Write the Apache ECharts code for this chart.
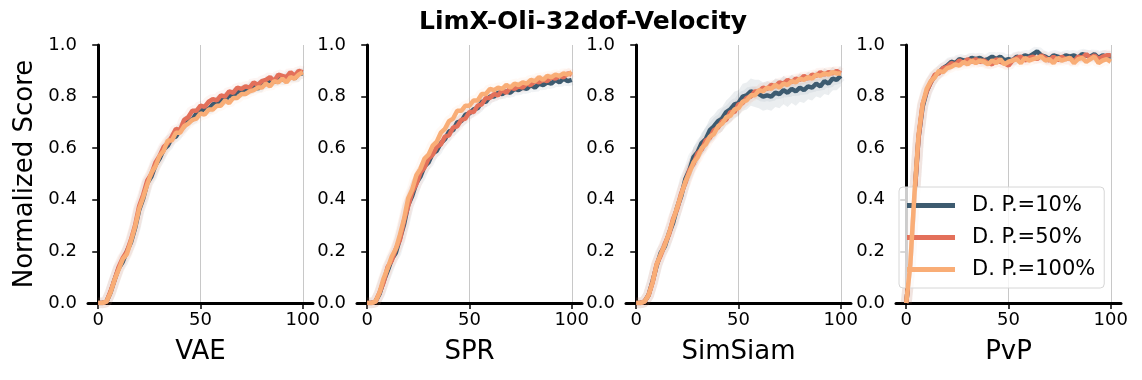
<!DOCTYPE html>
<html>
<head>
<meta charset="utf-8">
<script src="https://cdn.jsdelivr.net/npm/echarts@6/dist/echarts.min.js"></script>
<style>
  html, body { margin: 0; padding: 0; background: #fff; }
  #main { width: 1142px; height: 380px; }
</style>
</head>
<body>
<div id="main"></div>
<script>
// training progress (x) shared by all panels
var steps = [0, 2, 4, 6, 8, 10, 12, 14, 16, 18, 20, 22, 24, 26, 28, 30, 32, 34, 36, 38, 40,
             42, 44, 46, 48, 50, 52, 54, 56, 58, 60, 62, 64, 66, 68, 70, 72, 74, 76, 78, 80,
             82, 84, 86, 88, 90, 92, 94, 96, 98, 100];

var panels = ['VAE', 'SPR', 'SimSiam', 'PvP'];
var seriesNames = ['D. P.=10%', 'D. P.=50%', 'D. P.=100%'];
var xTicks = [0, 50, 100];

// VAE
var vae10 = [0, 0, 0.005, 0.04, 0.09, 0.135, 0.16, 0.2, 0.235, 0.29, 0.36, 0.405, 0.465, 0.49, 0.535, 0.56, 0.595, 0.61, 0.64, 0.645, 0.67,
             0.685, 0.71, 0.71, 0.735, 0.74, 0.755, 0.75, 0.77, 0.775, 0.79, 0.785, 0.805, 0.8, 0.82, 0.815, 0.83, 0.825, 0.845, 0.83, 0.85,
             0.85, 0.865, 0.855, 0.875, 0.865, 0.87, 0.885, 0.87, 0.89, 0.89];
var vae50 = [0, 0, 0.005, 0.045, 0.09, 0.14, 0.175, 0.2, 0.245, 0.3, 0.375, 0.42, 0.475, 0.5, 0.545, 0.57, 0.605, 0.62, 0.645, 0.675, 0.67,
             0.71, 0.72, 0.745, 0.745, 0.765, 0.76, 0.78, 0.79, 0.785, 0.805, 0.8, 0.82, 0.815, 0.835, 0.83, 0.84, 0.835, 0.855, 0.845, 0.86,
             0.865, 0.875, 0.86, 0.885, 0.88, 0.875, 0.895, 0.88, 0.9, 0.895];
var vae100 = [0, 0, 0.005, 0.04, 0.09, 0.13, 0.17, 0.19, 0.24, 0.295, 0.365, 0.41, 0.46, 0.505, 0.53, 0.57, 0.59, 0.63, 0.63, 0.66, 0.66,
              0.685, 0.695, 0.71, 0.715, 0.735, 0.73, 0.75, 0.75, 0.765, 0.765, 0.785, 0.775, 0.795, 0.795, 0.81, 0.81, 0.82, 0.825, 0.835, 0.835,
              0.85, 0.84, 0.86, 0.855, 0.87, 0.855, 0.875, 0.87, 0.885, 0.895];

// SPR
var spr10 = [0, 0, 0.005, 0.035, 0.085, 0.125, 0.17, 0.195, 0.25, 0.305, 0.38, 0.415, 0.465, 0.49, 0.53, 0.545, 0.58, 0.59, 0.62, 0.635, 0.665,
             0.67, 0.7, 0.705, 0.73, 0.735, 0.75, 0.755, 0.78, 0.78, 0.8, 0.8, 0.815, 0.81, 0.82, 0.815, 0.83, 0.825, 0.835, 0.83, 0.845,
             0.835, 0.85, 0.845, 0.855, 0.85, 0.865, 0.855, 0.87, 0.86, 0.865];
var spr50 = [0, 0, 0.005, 0.04, 0.08, 0.14, 0.165, 0.21, 0.245, 0.32, 0.375, 0.43, 0.46, 0.505, 0.525, 0.56, 0.575, 0.605, 0.615, 0.645, 0.65,
             0.68, 0.685, 0.71, 0.715, 0.74, 0.74, 0.765, 0.77, 0.795, 0.795, 0.81, 0.805, 0.825, 0.815, 0.835, 0.83, 0.84, 0.835, 0.85, 0.845,
             0.86, 0.855, 0.865, 0.86, 0.875, 0.87, 0.88, 0.875, 0.89, 0.885];
var spr100 = [0, 0, 0.005, 0.04, 0.095, 0.135, 0.18, 0.21, 0.265, 0.325, 0.405, 0.44, 0.495, 0.52, 0.56, 0.575, 0.61, 0.625, 0.66, 0.675, 0.705,
              0.715, 0.745, 0.745, 0.765, 0.765, 0.785, 0.785, 0.81, 0.81, 0.83, 0.825, 0.835, 0.83, 0.845, 0.835, 0.85, 0.845, 0.855, 0.85, 0.865,
              0.86, 0.875, 0.865, 0.88, 0.875, 0.885, 0.88, 0.89, 0.885, 0.895];

// SimSiam
var sim10 = [0, 0, 0.005, 0.03, 0.085, 0.145, 0.195, 0.22, 0.27, 0.31, 0.37, 0.415, 0.48, 0.515, 0.565, 0.585, 0.62, 0.635, 0.67, 0.685, 0.705,
             0.715, 0.74, 0.75, 0.77, 0.775, 0.8, 0.805, 0.82, 0.815, 0.81, 0.8, 0.805, 0.8, 0.815, 0.81, 0.825, 0.815, 0.83, 0.82, 0.835,
             0.825, 0.84, 0.835, 0.85, 0.84, 0.86, 0.85, 0.87, 0.865, 0.88];
var sim50 = [0, 0, 0.005, 0.03, 0.08, 0.15, 0.185, 0.23, 0.265, 0.325, 0.365, 0.425, 0.465, 0.515, 0.54, 0.58, 0.595, 0.63, 0.64, 0.67, 0.68,
             0.705, 0.71, 0.74, 0.74, 0.77, 0.775, 0.795, 0.8, 0.82, 0.82, 0.835, 0.83, 0.845, 0.84, 0.855, 0.85, 0.865, 0.855, 0.87, 0.865,
             0.88, 0.87, 0.885, 0.88, 0.895, 0.885, 0.895, 0.89, 0.9, 0.89];
var sim100 = [0, 0, 0.005, 0.03, 0.08, 0.15, 0.19, 0.225, 0.27, 0.32, 0.37, 0.42, 0.47, 0.505, 0.545, 0.565, 0.6, 0.615, 0.645, 0.655, 0.685,
              0.695, 0.72, 0.725, 0.75, 0.755, 0.78, 0.785, 0.805, 0.805, 0.825, 0.82, 0.835, 0.83, 0.845, 0.835, 0.85, 0.845, 0.86, 0.855, 0.87,
              0.865, 0.875, 0.87, 0.885, 0.88, 0.89, 0.885, 0.895, 0.89, 0.89];
// spread of the D. P.=10% SimSiam runs (visible shaded band)
var sim10Lo = [0, 0, 0, 0.01, 0.06, 0.12, 0.17, 0.195, 0.24, 0.28, 0.335, 0.38, 0.44, 0.475, 0.52, 0.54, 0.575, 0.59, 0.62, 0.635, 0.655,
               0.665, 0.69, 0.7, 0.715, 0.725, 0.745, 0.75, 0.765, 0.76, 0.755, 0.745, 0.75, 0.745, 0.76, 0.755, 0.77, 0.76, 0.775, 0.765, 0.78,
               0.775, 0.79, 0.785, 0.8, 0.795, 0.81, 0.805, 0.825, 0.825, 0.84];
var sim10Hi = [0, 0, 0.015, 0.05, 0.11, 0.17, 0.22, 0.25, 0.3, 0.345, 0.405, 0.45, 0.515, 0.555, 0.605, 0.625, 0.66, 0.68, 0.715, 0.73, 0.75,
               0.76, 0.785, 0.8, 0.82, 0.825, 0.85, 0.855, 0.87, 0.865, 0.865, 0.855, 0.86, 0.855, 0.87, 0.865, 0.88, 0.87, 0.885, 0.875, 0.89,
               0.88, 0.895, 0.89, 0.9, 0.89, 0.91, 0.9, 0.915, 0.905, 0.92];

// PvP
var pvp10 = [0, 0.15, 0.41, 0.64, 0.76, 0.82, 0.855, 0.88, 0.895, 0.91, 0.92, 0.935, 0.93, 0.945, 0.94, 0.94, 0.95, 0.945, 0.95, 0.94, 0.945,
             0.955, 0.945, 0.955, 0.94, 0.945, 0.94, 0.955, 0.95, 0.96, 0.955, 0.965, 0.975, 0.96, 0.955, 0.945, 0.96, 0.955, 0.95, 0.96, 0.955,
             0.96, 0.95, 0.965, 0.96, 0.955, 0.965, 0.95, 0.96, 0.955, 0.955];
var pvp50 = [0, 0.15, 0.41, 0.64, 0.77, 0.82, 0.855, 0.885, 0.89, 0.91, 0.915, 0.93, 0.925, 0.94, 0.93, 0.945, 0.935, 0.945, 0.935, 0.94, 0.93,
             0.925, 0.945, 0.935, 0.93, 0.92, 0.94, 0.95, 0.955, 0.94, 0.95, 0.955, 0.945, 0.96, 0.95, 0.94, 0.955, 0.94, 0.955, 0.945, 0.95,
             0.935, 0.955, 0.95, 0.965, 0.95, 0.96, 0.945, 0.955, 0.96, 0.96];
var pvp100 = [0, 0.15, 0.42, 0.65, 0.77, 0.83, 0.86, 0.875, 0.9, 0.895, 0.91, 0.915, 0.925, 0.92, 0.935, 0.925, 0.94, 0.93, 0.94, 0.935, 0.925,
              0.94, 0.93, 0.945, 0.925, 0.935, 0.94, 0.945, 0.93, 0.95, 0.94, 0.945, 0.95, 0.955, 0.94, 0.945, 0.93, 0.95, 0.94, 0.945, 0.95,
              0.93, 0.945, 0.95, 0.935, 0.945, 0.955, 0.93, 0.94, 0.945, 0.935];

var panelData = [
  [vae10, vae50, vae100],
  [spr10, spr50, spr100],
  [sim10, sim50, sim100],
  [pvp10, pvp50, pvp100]
];
var colors = ['#3d5b70', '#e3705a', '#f9ad76'];

var gridLefts = [88, 357, 626, 896];
var font = 'DejaVu Sans';

function pairs(ys) {
  return steps.map(function (x, i) { return [x, ys[i]]; });
}

// shaded band between lo/hi, drawn segment by segment through the axis scales
function bandItem(params, api) {
  var i = params.dataIndex;
  if (i >= steps.length - 1) return null;
  var a = api.coord([steps[i], sim10Lo[i]]);
  var b = api.coord([steps[i + 1], sim10Lo[i + 1]]);
  var c = api.coord([steps[i + 1], sim10Hi[i + 1]]);
  var d = api.coord([steps[i], sim10Hi[i]]);
  return {
    type: 'polygon',
    shape: { points: [a, b, c, d] },
    style: { fill: colors[0], opacity: 0.1, stroke: colors[0], lineWidth: 0.5, strokeOpacity: 0.1 }
  };
}

var grids = [], xAxes = [], yAxes = [], series = [];
panels.forEach(function (name, p) {
  grids.push({ left: gridLefts[p], top: 45, width: 225, height: 258 });
  xAxes.push({
    type: 'value', gridIndex: p, min: -5, max: 105,
    name: name, nameLocation: 'middle', nameGap: 36,
    nameTextStyle: { fontFamily: font, fontSize: 26, color: '#000' },
    axisLine: { show: true, lineStyle: { color: '#000', width: 3 } },
    axisTick: { show: true, customValues: xTicks, length: 6, lineStyle: { color: '#000', width: 1.5 } },
    axisLabel: { customValues: xTicks, fontFamily: font, fontSize: 18, color: '#000', margin: 8 },
    splitLine: { show: true, lineStyle: { color: '#c8c8c8', width: 1 } }
  });
  yAxes.push({
    type: 'value', gridIndex: p, min: 0, max: 1, interval: 0.2,
    axisLine: { show: true, lineStyle: { color: '#000', width: 3 } },
    axisTick: { show: true, length: 6, lineStyle: { color: '#000', width: 1.5 } },
    axisLabel: {
      fontFamily: font, fontSize: 18, color: '#000', margin: 11,
      formatter: function (v) { return v.toFixed(1); }
    },
    splitLine: { show: false }
  });
  panelData[p].forEach(function (ys, s) {
    // faint halo standing in for the seed spread
    series.push({
      name: seriesNames[s] + ' spread', type: 'line', xAxisIndex: p, yAxisIndex: p,
      data: pairs(ys), showSymbol: false, symbol: 'none', silent: true,
      lineStyle: { color: colors[s], width: 11, opacity: 0.07 },
      z: 1
    });
  });
  if (p === 2) {
    series.push({
      name: 'band', type: 'custom', xAxisIndex: p, yAxisIndex: p, silent: true,
      data: steps.map(function (x, i) { return [x, sim10Lo[i], sim10Hi[i]]; }),
      encode: { x: 0, y: [1, 2] },
      renderItem: bandItem, z: 1
    });
  }
  panelData[p].forEach(function (ys, s) {
    series.push({
      name: seriesNames[s], type: 'line', xAxisIndex: p, yAxisIndex: p,
      data: pairs(ys), showSymbol: false, symbol: 'none', smooth: false,
      lineStyle: { color: colors[s], width: 4.5 },
      itemStyle: { color: colors[s] },
      z: 2 + s
    });
  });
});

var myChart = echarts.init(document.getElementById('main'), null, { renderer: 'canvas' });
myChart.setOption({
  animation: false,
  backgroundColor: '#fff',
  grid: grids,
  xAxis: xAxes,
  yAxis: yAxes,
  series: series,
  legend: {
    data: seriesNames,
    orient: 'vertical', left: 899, top: 187,
    icon: 'rect', itemWidth: 48, itemHeight: 5, itemGap: 11,
    padding: [8, 9, 8, 8],
    backgroundColor: 'rgba(255,255,255,0.8)',
    borderColor: '#d6d6d6', borderWidth: 1, borderRadius: 4,
    textStyle: { fontFamily: font, fontSize: 21, color: '#000', padding: [0, 0, 0, 12] }
  },
  graphic: [
    {
      type: 'text', x: 583, y: 22,
      style: { text: 'LimX-Oli-32dof-Velocity', fontFamily: font, fontSize: 25, fontWeight: 'bold',
               fill: '#000', align: 'center', verticalAlign: 'middle' }
    },
    {
      type: 'text', x: 25, y: 174, rotation: Math.PI / 2,
      style: { text: 'Normalized Score', fontFamily: font, fontSize: 26,
               fill: '#000', align: 'center', verticalAlign: 'middle' }
    }
  ]
});
</script>
</body>
</html>
